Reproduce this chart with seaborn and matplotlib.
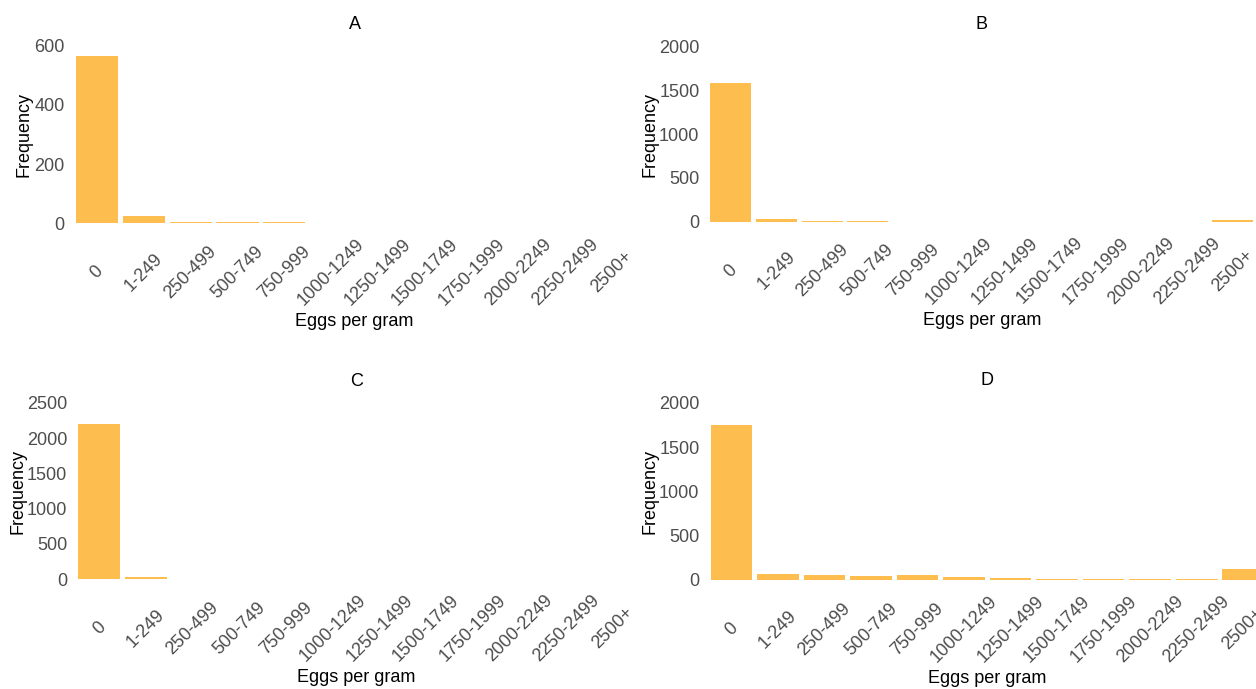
import matplotlib
matplotlib.use("Agg")
import matplotlib.pyplot as plt
import seaborn as sns
import pandas as pd

# Egg-count classes (eggs per gram)
categories = ["0", "1-249", "250-499", "500-749", "750-999", "1000-1249",
              "1250-1499", "1500-1749", "1750-1999", "2000-2249",
              "2250-2499", "2500+"]

# Frequencies per class for each panel
freq_a = [567, 23, 4, 4, 3, 2, 0, 0, 0, 0, 0, 2]
freq_b = [1582, 27, 12, 5, 0, 0, 0, 0, 0, 0, 0, 19]
freq_c = [2205, 28, 6, 6, 0, 0, 0, 0, 0, 0, 0, 5]
freq_d = [1745, 64, 60, 49, 53, 34, 23, 11, 10, 14, 6, 124]

panel_titles = ["A", "B", "C", "D"]
y_ticks = [[0, 200, 400, 600],
           [0, 500, 1000, 1500, 2000],
           [0, 500, 1000, 1500, 2000, 2500],
           [0, 500, 1000, 1500, 2000]]
y_limits = [(-20, 620), (-70, 2070), (-85, 2585), (-70, 2070)]

BAR_COLOR = "#FDBE4F"
TICK_COLOR = "#4D4D4D"
FS = 13

sns.set_theme(style="white")
plt.rcParams["font.family"] = ["Liberation Sans", "DejaVu Sans"]

W, H = 1256, 689
fig = plt.figure(figsize=(W / 100, H / 100), dpi=100)

# axes boxes in pixels: left, right, top, bottom, zero line, y-label right edge
boxes = [(69, 640, 40.0, 229.0, 223.0, 33),
         (703.6, 1260, 40.6, 227.8, 221.7, 659),
         (71.3, 641, 396.7, 585.3, 579.3, 26),
         (703.6, 1271, 396.5, 586.2, 580.0, 659)]


def px_axes(l, r, t, b):
    return fig.add_axes([l / W, 1 - b / H, (r - l) / W, (b - t) / H])


for i, (vals, title) in enumerate(zip([freq_a, freq_b, freq_c, freq_d], panel_titles)):
    l, r, t, b, zero, ylab_x = boxes[i]
    ax = px_axes(l, r, t, b)
    df = pd.DataFrame({"Eggs per gram": categories, "Frequency": vals})
    sns.barplot(data=df, x="Eggs per gram", y="Frequency", order=categories,
                color=BAR_COLOR, saturation=1, width=0.9, linewidth=0,
                edgecolor="none", ax=ax)
    ax.set_xlim(-0.6, 11.6)
    ax.set_ylim(*y_limits[i])
    ax.set_yticks(y_ticks[i])
    ax.set_yticklabels([str(v) for v in y_ticks[i]])
    for s in ax.spines.values():
        s.set_visible(False)
    ax.tick_params(axis="both", length=0, colors=TICK_COLOR, labelsize=FS)
    ax.tick_params(axis="y", pad=3)
    ax.tick_params(axis="x", pad=31)
    for lab in ax.get_xticklabels():
        lab.set_rotation(45)
        lab.set_ha("center")
        lab.set_va("center")
        lab.set_rotation_mode("default")
    ax.set_title(title, fontsize=FS, color="black", pad=8)
    ax.set_xlabel("Eggs per gram", fontsize=FS, color="black")
    ax.set_ylabel("Frequency", fontsize=FS, color="black")
    axh = b - t
    axw = r - l
    ax.xaxis.set_label_coords(0.5, (b - (zero + 90)) / axh)
    ax.yaxis.set_label_coords((ylab_x - l) / axw, 0.5)
    ax.set_facecolor("white")

fig.savefig("out.png", dpi=100, facecolor="white")
